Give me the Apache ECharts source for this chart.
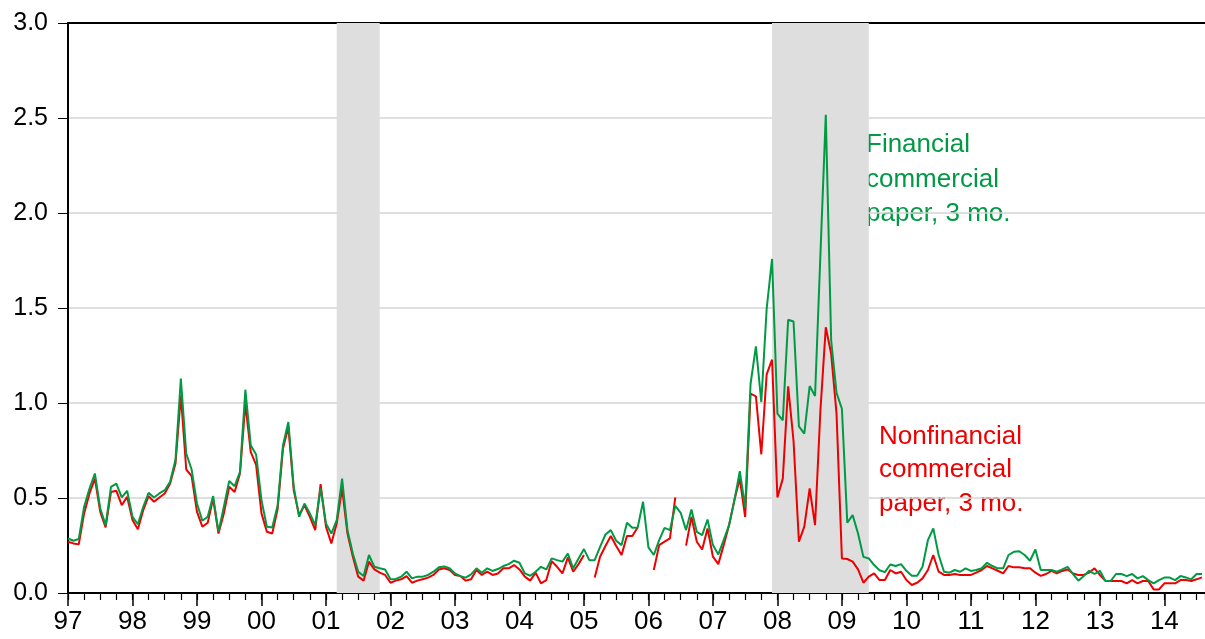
<!DOCTYPE html>
<html>
<head>
<meta charset="utf-8">
<script src="https://cdn.jsdelivr.net/npm/echarts@6/dist/echarts.min.js"></script>
<style>
  html, body { margin: 0; padding: 0; background: #fff; }
  #chart { width: 1205px; height: 639px; }
</style>
</head>
<body>
<div id="chart"></div>
<script>
// monthly observations, starting January 1997
const startYear = 1997;
// the plot is cut off at the right edge, a little after mid 2014
const endYear = 2014.63;

// financial commercial paper, 3 mo. (one row per year)
const financial = [
  0.287, 0.275, 0.284, 0.454, 0.55, 0.629, 0.445, 0.357, 0.559, 0.576, 0.503, 0.538,
  0.401, 0.362, 0.454, 0.527, 0.503, 0.524, 0.541, 0.585, 0.702, 1.128, 0.734, 0.65,
  0.471, 0.38, 0.401, 0.51, 0.322, 0.454, 0.59, 0.562, 0.637, 1.07, 0.778, 0.729,
  0.489, 0.349, 0.345, 0.46, 0.778, 0.9, 0.559, 0.401, 0.471, 0.419, 0.357, 0.55,
  0.366, 0.313, 0.384, 0.602, 0.331, 0.208, 0.112, 0.089, 0.2, 0.138, 0.13, 0.124,
  0.072, 0.074, 0.086, 0.112, 0.077, 0.086, 0.086, 0.095, 0.112, 0.135, 0.14, 0.13,
  0.103, 0.089, 0.081, 0.098, 0.13, 0.107, 0.13, 0.116, 0.126, 0.142, 0.152, 0.17,
  0.159, 0.103, 0.091, 0.112, 0.138, 0.124, 0.182, 0.173, 0.165, 0.208, 0.13, 0.182,
  0.231, 0.173, 0.173, 0.243, 0.308, 0.331, 0.275, 0.252, 0.37, 0.343, 0.345, 0.48,
  0.24, 0.2, 0.278, 0.343, 0.331, 0.459, 0.422, 0.331, 0.44, 0.322, 0.305, 0.387,
  0.252, 0.203, 0.278, 0.357, 0.489, 0.641, 0.45, 1.1, 1.298, 1.005, 1.496, 1.758,
  0.944, 0.909, 1.438, 1.429, 0.877, 0.839, 1.089, 1.037, 1.78, 2.517, 1.33, 1.053,
  0.97, 0.37, 0.41, 0.313, 0.19, 0.182, 0.147, 0.12, 0.11, 0.15, 0.142, 0.152,
  0.117, 0.091, 0.091, 0.138, 0.278, 0.34, 0.2, 0.112, 0.107, 0.121, 0.112, 0.13,
  0.116, 0.121, 0.13, 0.159, 0.142, 0.13, 0.13, 0.2, 0.217, 0.22, 0.2, 0.17,
  0.229, 0.121, 0.121, 0.121, 0.112, 0.124, 0.138, 0.1, 0.065, 0.089, 0.117, 0.1,
  0.117, 0.065, 0.063, 0.1, 0.1, 0.089, 0.1, 0.077, 0.089, 0.068, 0.051, 0.068,
  0.081, 0.081, 0.068, 0.089, 0.082, 0.072, 0.1, 0.1
];

// nonfinancial commercial paper, 3 mo. (null = no observation)
const nonfinancial = [
  0.27, 0.261, 0.256, 0.419, 0.524, 0.602, 0.427, 0.345, 0.532, 0.538, 0.462, 0.506,
  0.384, 0.335, 0.436, 0.51, 0.48, 0.503, 0.524, 0.576, 0.681, 1.04, 0.65, 0.615,
  0.427, 0.349, 0.37, 0.497, 0.313, 0.419, 0.559, 0.532, 0.629, 0.997, 0.743, 0.674,
  0.419, 0.322, 0.313, 0.44, 0.76, 0.874, 0.541, 0.41, 0.462, 0.401, 0.331, 0.573,
  0.349, 0.261, 0.366, 0.55, 0.313, 0.191, 0.086, 0.065, 0.165, 0.124, 0.107, 0.095,
  0.054, 0.065, 0.072, 0.089, 0.054, 0.065, 0.072, 0.081, 0.095, 0.124, 0.13, 0.121,
  0.095, 0.089, 0.065, 0.072, 0.121, 0.095, 0.112, 0.095, 0.103, 0.13, 0.13, 0.147,
  0.124, 0.086, 0.065, 0.107, 0.051, 0.068, 0.168, 0.138, 0.103, 0.187, 0.112, 0.152,
  0.2, null, 0.082, 0.191, 0.247, 0.3, 0.247, 0.2, 0.3, 0.3, 0.345, null,
  null, 0.121, 0.252, 0.27, 0.287, 0.503, null, 0.249, 0.401, 0.27, 0.229, 0.34,
  0.191, 0.152, 0.252, 0.357, 0.489, 0.602, 0.40, 1.049, 1.035, 0.73, 1.151, 1.228,
  0.503, 0.602, 1.088, 0.8, 0.27, 0.349, 0.55, 0.357, 0.961, 1.399, 1.259, 0.944,
  0.182, 0.179, 0.165, 0.124, 0.054, 0.086, 0.103, 0.068, 0.068, 0.121, 0.103, 0.112,
  0.068, 0.042, 0.054, 0.077, 0.121, 0.2, 0.112, 0.095, 0.095, 0.1, 0.095, 0.095,
  0.095, 0.107, 0.121, 0.142, 0.13, 0.117, 0.103, 0.142, 0.135, 0.135, 0.13, 0.13,
  0.107, 0.09, 0.1, 0.117, 0.103, 0.116, 0.124, 0.103, 0.095, 0.095, 0.107, 0.13,
  0.095, 0.065, 0.063, 0.063, 0.063, 0.051, 0.068, 0.051, 0.063, 0.063, 0.019, 0.019,
  0.051, 0.051, 0.051, 0.068, 0.068, 0.063, 0.072, 0.082
];

// NBER recessions, as [start, end] in fractional years
const recessions = [
  [2001 + 2 / 12, 2001 + 10 / 12],
  [2007 + 11 / 12, 2009 + 5 / 12]
];

const yTicks = [0, 0.5, 1.0, 1.5, 2.0, 2.5, 3.0];

const green = '#009a44';
const red = '#ee0000';
const font = 'Liberation Sans, Arial, sans-serif';

const toPairs = arr => arr.map((v, i) => [startYear + i / 12, v]);

const chart = echarts.init(document.getElementById('chart'));

const option = {
  animation: false,
  backgroundColor: '#fff',
  grid: { left: 68, right: 0, top: 23, bottom: 46 },
  xAxis: [
    {
      // years: long ticks and two-digit labels
      type: 'value',
      position: 'bottom',
      min: startYear,
      max: endYear,
      interval: 1,
      axisLine: { show: true, onZero: false, lineStyle: { color: '#000', width: 2 } },
      axisTick: { show: true, length: 13, lineStyle: { color: '#000', width: 1.5 } },
      splitLine: { show: false },
      axisLabel: {
        color: '#000',
        fontFamily: font,
        fontSize: 26,
        margin: 16,
        showMaxLabel: false,
        formatter: v => Number.isInteger(v) ? String(v % 100).padStart(2, '0') : ''
      }
    },
    {
      // quarters: short ticks only
      type: 'value',
      position: 'bottom',
      min: startYear,
      max: endYear,
      interval: 0.25,
      axisLine: { show: false, onZero: false },
      axisTick: { show: true, length: 7, lineStyle: { color: '#000', width: 1.2 } },
      axisLabel: { show: false },
      splitLine: { show: false }
    },
    {
      // top frame
      type: 'value',
      position: 'top',
      min: startYear,
      max: endYear,
      axisLine: { show: true, onZero: false, lineStyle: { color: '#000', width: 2 } },
      axisTick: { show: false },
      axisLabel: { show: false },
      splitLine: { show: false }
    }
  ],
  yAxis: {
    type: 'value',
    min: yTicks[0],
    max: yTicks[yTicks.length - 1],
    interval: 0.5,
    axisLine: { show: true, lineStyle: { color: '#000', width: 2 } },
    axisTick: { show: true, length: 10, lineStyle: { color: '#000', width: 1 } },
    splitLine: { show: true, lineStyle: { color: '#d4d4d4', width: 1.5 } },
    axisLabel: {
      color: '#000',
      fontFamily: font,
      fontSize: 25,
      margin: 20,
      formatter: v => v.toFixed(1)
    }
  },
  series: [
    {
      name: 'Nonfinancial commercial paper, 3 mo.',
      type: 'line',
      data: toPairs(nonfinancial),
      showSymbol: false,
      connectNulls: false,
      lineStyle: { color: red, width: 2 },
      z: 3,
      markArea: {
        silent: true,
        itemStyle: { color: '#dedede' },
        data: recessions.map(r => [{ xAxis: r[0] }, { xAxis: r[1] }])
      }
    },
    {
      name: 'Financial commercial paper, 3 mo.',
      type: 'line',
      data: toPairs(financial),
      showSymbol: false,
      lineStyle: { color: green, width: 2 },
      z: 4
    }
  ],
  graphic: [
    {
      type: 'text',
      left: 866,
      top: 128,
      style: {
        text: 'Financial\ncommercial\npaper, 3 mo.',
        fill: green,
        font: '26px ' + font,
        lineHeight: 34.5
      }
    },
    {
      type: 'text',
      left: 879,
      top: 420,
      style: {
        text: 'Nonfinancial\ncommercial\npaper, 3 mo.',
        fill: red,
        font: '26px ' + font,
        lineHeight: 33.5
      }
    }
  ]
};

chart.setOption(option);
</script>
</body>
</html>
